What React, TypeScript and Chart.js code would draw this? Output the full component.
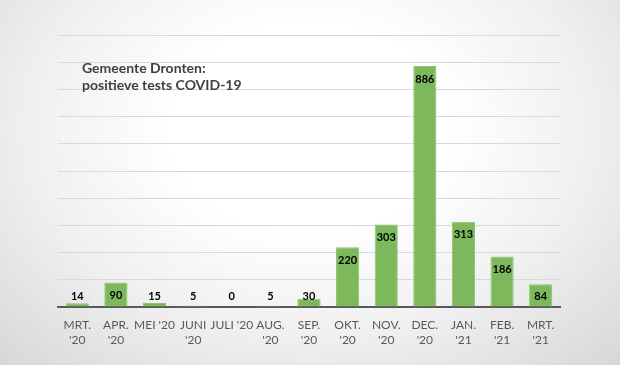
import React, { useEffect, useRef } from "react";
import { Chart, registerables } from "chart.js";

Chart.register(...registerables);

const categories: (string | string[])[] = [
  ["MRT.", "'20"],
  ["APR.", "'20"],
  "MEI '20",
  ["JUNI", "'20"],
  "JULI '20",
  ["AUG.", "'20"],
  ["SEP.", "'20"],
  ["OKT.", "'20"],
  ["NOV.", "'20"],
  ["DEC.", "'20"],
  ["JAN.", "'21"],
  ["FEB.", "'21"],
  ["MRT.", "'21"],
];
const positiveTests = [14, 90, 15, 5, 0, 5, 30, 220, 303, 886, 313, 186, 84];
const titleLines = ["Gemeente Dronten:", "positieve tests COVID-19"];
const yMax = 1000;
const yStep = 100;

const FONT = "Lato, 'Open Sans', 'Liberation Sans', sans-serif";

const labelPlugin = {
  id: "valueLabels",
  afterDatasetsDraw(chart: any) {
    const ctx = chart.ctx;
    const meta = chart.getDatasetMeta(0);
    const base = chart.scales.y.getPixelForValue(0);
    ctx.save();
    ctx.font = `bold 11px ${FONT}`;
    ctx.fillStyle = "#000000";
    ctx.textAlign = "center";
    ctx.textBaseline = "middle";
    meta.data.forEach((bar: any, i: number) => {
      const y = Math.min(bar.y + 13, base - 11);
      ctx.fillText(String(positiveTests[i]), bar.x, y);
    });
    ctx.restore();
  },
};

const titlePlugin = {
  id: "innerTitle",
  afterDraw(chart: any) {
    const ctx = chart.ctx;
    ctx.save();
    ctx.font = `bold 14px ${FONT}`;
    ctx.fillStyle = "#404040";
    ctx.textAlign = "left";
    ctx.textBaseline = "middle";
    titleLines.forEach((t, i) => ctx.fillText(t, 82, 68 + i * 17.5));
    ctx.restore();
  },
};

export default function App() {
  const ref = useRef<HTMLCanvasElement | null>(null);
  useEffect(() => {
    document.body.style.margin = "0";
    const canvas = ref.current!;
    const chart = new Chart(canvas, {
      type: "bar",
      data: {
        labels: categories,
        datasets: [
          {
            data: positiveTests,
            backgroundColor: "#7DB85C",
            borderColor: "#8CC46C",
            borderWidth: 1,
            barPercentage: 0.6,
            categoryPercentage: 1,
          },
        ],
      },
      options: {
        animation: false,
        responsive: false,
        maintainAspectRatio: false,
        layout: { padding: { left: 58, right: 60, top: 35, bottom: 0 } },
        plugins: {
          legend: { display: false },
          tooltip: { enabled: false },
          title: { display: false },
        },
        scales: {
          x: {
            grid: { display: false },
            border: { display: true, color: "#595959", width: 2 },
            ticks: {
              color: "#595959",
              font: { family: FONT, size: 12, lineHeight: 1.3 },
              padding: 2,
              maxRotation: 0,
              autoSkip: false,
            },
            afterFit(scale: any) {
              scale.height = 58;
            },
          },
          y: {
            min: 0,
            max: yMax,
            border: { display: false },
            grid: { color: "#d9d9d9", lineWidth: 1, drawTicks: false },
            ticks: { stepSize: yStep, display: false },
            afterFit(scale: any) {
              scale.width = 0;
            },
          },
        },
      },
      plugins: [labelPlugin, titlePlugin],
    });
    return () => chart.destroy();
  }, []);
  return (
    <div
      style={{
        width: 620,
        height: 365,
        background:
          "radial-gradient(ellipse 75% 95% at 50% 35%, #ffffff 0%, #ffffff 30%, #f0f0f0 60%, #d4d4d4 100%)",
      }}
    >
      <canvas ref={ref} width={620} height={365} style={{ display: "block" }} />
    </div>
  );
}
